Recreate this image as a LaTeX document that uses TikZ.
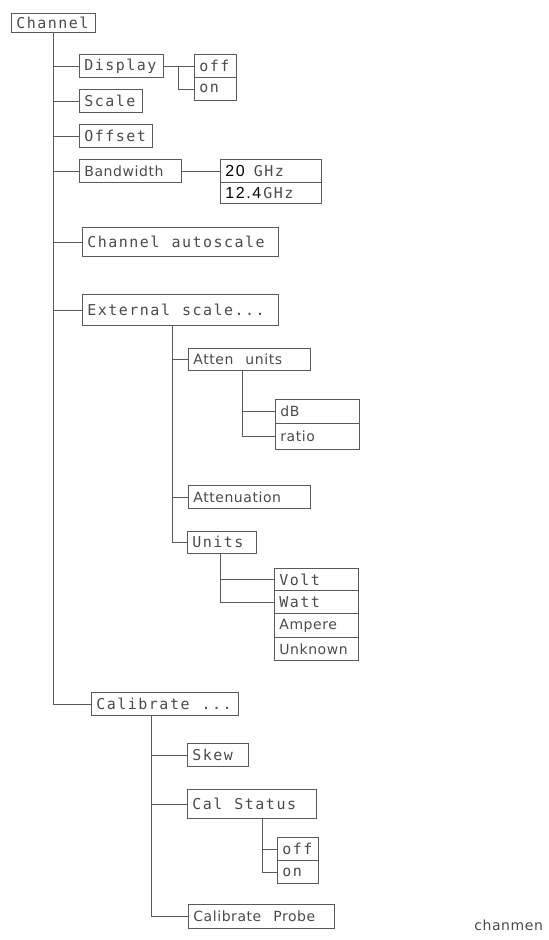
\documentclass[tikz,border=0pt]{standalone}
\usepackage{fontspec}
\newfontfamily\hpwide[LetterSpace=10,Scale=1.07]{DejaVu Sans Mono}
\newfontfamily\hpnarrow[LetterSpace=4]{DejaVu Sans}
\newfontfamily\hpbold[LetterSpace=10]{Liberation Sans}
\definecolor{plotline}{HTML}{5A5A5A}
\definecolor{plottext}{HTML}{4A4A4A}
\newcommand{\gap}{\hspace{12pt}}
\begin{document}
\begin{tikzpicture}[x=1pt, y=-1pt, line width=0.8pt,
    menu/.style={draw=plotline, anchor=north west, inner xsep=5pt, inner ysep=0pt,
        align=left, text=plottext, font=\fontsize{14pt}{16pt}\selectfont},
    stem/.style={draw=plotline}]
        \useasboundingbox (0,0) rectangle (549,940);

        % top level
        \node [menu, text width=74pt, minimum height=19pt] (channel) at (11,13) {\hpwide Channel};
        \coordinate (trunk) at (53,32);

        \node [menu, text width=74pt, minimum height=23pt] (display) at (79,54) {\hpwide Display};
        \node [menu, text width=32pt, minimum height=23pt] (dispoff) at (194,54) {\hpwide off};
        \node [menu, text width=32pt, minimum height=23pt] (dispon) at (194,77) {\hpwide on};
        \node [menu, text width=53pt, minimum height=23pt] (scale) at (79,89) {\hpwide Scale};
        \node [menu, text width=63pt, minimum height=23pt] (offset) at (79,124) {\hpwide Offset};
        \node [menu, text width=92pt, minimum height=23pt] (bandw) at (79,159) {\hpnarrow Bandwidth};
        \node [menu, text width=91pt, minimum height=23pt] (ghza) at (220,159)
            {{\hpbold\color{black}\fontsize{16pt}{16pt}\selectfont 20}\hspace{9pt}{\hpwide GHz}};
        \node [menu, text width=91pt, minimum height=21pt] (ghzb) at (220,182)
            {{\hpbold\color{black}\fontsize{16pt}{16pt}\selectfont 12.4}\hspace{2pt}{\hpwide GHz}};
        \node [menu, text width=186pt, minimum height=29pt] (autosc) at (82,227) {\hpwide Channel\gap autoscale};
        \node [menu, text width=186pt, minimum height=31pt] (extsc) at (82,294) {\hpwide External\gap scale...};
        \node [menu, text width=137pt, minimum height=23pt] (calib) at (91,692) {\hpwide Calibrate\gap ...};

        % external scale
        \coordinate (extstem) at (172,325);
        \node [menu, text width=112pt, minimum height=22pt] (attunits) at (188,348) {\hpnarrow Atten\gap units};
        \coordinate (attstem) at (242,370);
        \node [menu, text width=74pt, minimum height=24pt] (db) at (275,399) {\hpnarrow dB};
        \node [menu, text width=74pt, minimum height=26pt] (ratio) at (275,423) {\hpnarrow ratio};
        \node [menu, text width=112pt, minimum height=23pt] (atten) at (188,485) {\hpnarrow Attenuation};
        \node [menu, text width=59pt, minimum height=22pt] (units) at (187,531) {\hpwide Units};
        \coordinate (unitstem) at (220,553);
        \node [menu, text width=74pt, minimum height=22pt] (volt) at (274,568) {\hpwide Volt};
        \node [menu, text width=74pt, minimum height=23pt] (watt) at (274,590) {\hpwide Watt};
        \node [menu, text width=74pt, minimum height=24pt] (ampere) at (274,613) {\hpnarrow Ampere};
        \node [menu, text width=74pt, minimum height=23pt] (unknown) at (274,637) {\hpnarrow Unknown};

        % calibrate
        \coordinate (calstem) at (151,715);
        \node [menu, text width=51pt, minimum height=23pt] (skew) at (187,743) {\hpwide Skew};
        \node [menu, text width=119pt, minimum height=29pt] (calstat) at (187,789) {\hpwide Cal\gap Status};
        \coordinate (statstem) at (262,818);
        \node [menu, text width=31pt, minimum height=23pt] (caloff) at (277,837) {\hpwide off};
        \node [menu, text width=31pt, minimum height=23pt] (calon) at (277,860) {\hpwide on};
        \node [menu, text width=136pt, minimum height=24pt] (probe) at (188,904) {\hpnarrow Calibrate\gap Probe};

        \node [anchor=west, inner sep=0pt, text=plottext, font=\fontsize{14pt}{16pt}\selectfont\hpnarrow]
            (figname) at (474,925) {chanmen};

        % connectors
        \draw [stem] (trunk) |- (display.west);
        \draw [stem] (trunk) |- (scale.west);
        \draw [stem] (trunk) |- (offset.west);
        \draw [stem] (trunk) |- (bandw.west);
        \draw [stem] (trunk) |- (autosc.west);
        \draw [stem] (trunk) |- (extsc.west);
        \draw [stem] (trunk) |- (calib.west);

        \draw [stem] (display.east) -- (dispoff.west);
        \coordinate (dispsplit) at (178,65.5);
        \draw [stem] (dispsplit) |- (dispon.west);
        \draw [stem] (bandw.east) -- (ghza.west);

        \draw [stem] (extstem) |- (attunits.west);
        \draw [stem] (extstem) |- (atten.west);
        \draw [stem] (extstem) |- (units.west);
        \draw [stem] (attstem) |- (db.west);
        \draw [stem] (attstem) |- (ratio.west);
        \draw [stem] (unitstem) |- (volt.west);
        \draw [stem] (unitstem) |- (watt.west);

        \draw [stem] (calstem) |- (skew.west);
        \draw [stem] (calstem) |- (calstat.west);
        \draw [stem] (calstem) |- (probe.west);
        \draw [stem] (statstem) |- (caloff.west);
        \draw [stem] (statstem) |- (calon.west);
    \end{tikzpicture}
\end{document}
